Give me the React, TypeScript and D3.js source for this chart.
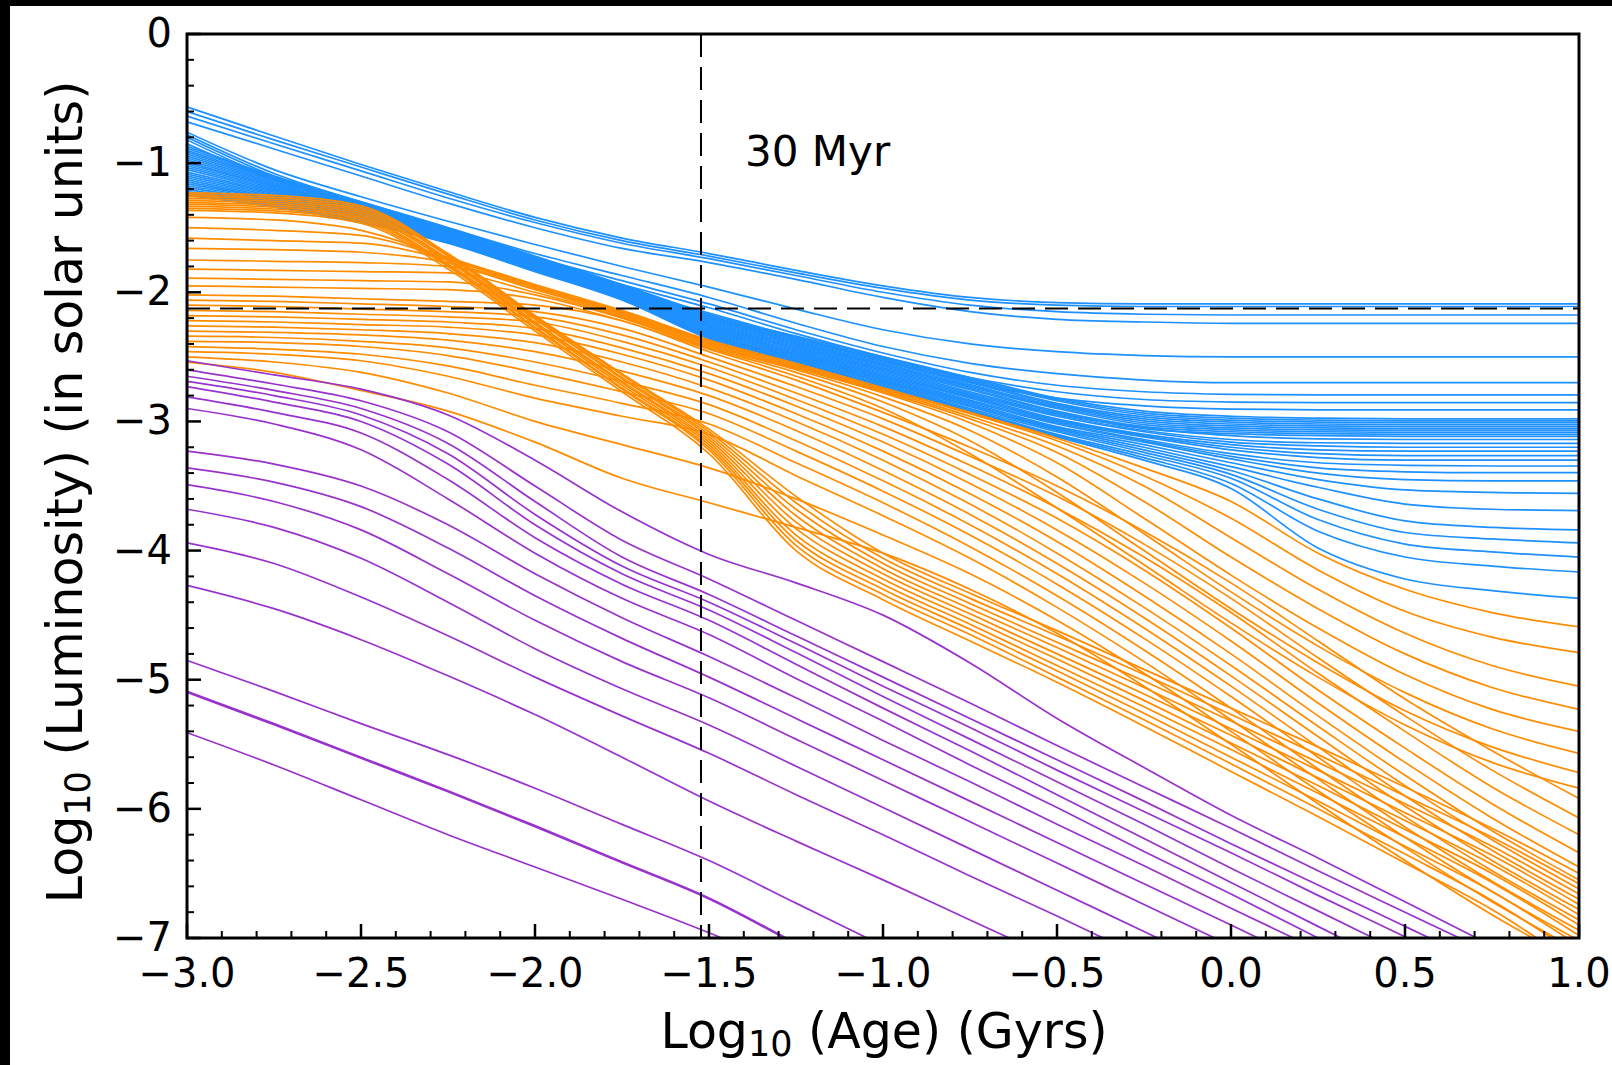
import React from 'react';
import * as d3 from 'd3';

// Common age grid, log10(age / Gyr)
const AGES = [-3, -2.75, -2.5, -2.25, -2, -1.75, -1.5, -1.25, -1, -0.75, -0.5, -0.25, 0, 0.25, 0.5, 0.75, 1];

// Stellar tracks above the main band (log L at each grid age)
const starUpper = [
  [-0.565, -0.79, -1.01, -1.22, -1.42, -1.58, -1.70, -1.83, -1.95, -2.04, -2.08, -2.09, -2.09, -2.09, -2.09, -2.09, -2.09],
  [-0.60, -0.82, -1.03, -1.24, -1.44, -1.60, -1.72, -1.85, -1.97, -2.06, -2.10, -2.11, -2.11, -2.11, -2.11, -2.11, -2.11],
  [-0.635, -0.85, -1.06, -1.27, -1.46, -1.62, -1.74, -1.87, -2.00, -2.10, -2.15, -2.17, -2.176, -2.176, -2.176, -2.176, -2.176],
  [-0.68, -0.89, -1.10, -1.31, -1.50, -1.66, -1.77, -1.90, -2.04, -2.15, -2.21, -2.23, -2.24, -2.24, -2.24, -2.24, -2.24],
  [-0.76, -1.05, -1.26, -1.45, -1.63, -1.80, -1.96, -2.13, -2.29, -2.40, -2.46, -2.49, -2.50, -2.50, -2.50, -2.50, -2.50],
  [-0.78, -1.08, -1.30, -1.50, -1.70, -1.87, -2.04, -2.24, -2.42, -2.55, -2.63, -2.68, -2.70, -2.70, -2.70, -2.70, -2.70],
  [-0.80, -1.10, -1.32, -1.52, -1.73, -1.91, -2.09, -2.29, -2.47, -2.62, -2.72, -2.77, -2.79, -2.795, -2.795, -2.795, -2.795],
  [-0.82, -1.12, -1.33, -1.54, -1.75, -1.94, -2.12, -2.32, -2.50, -2.66, -2.77, -2.83, -2.85, -2.855, -2.855, -2.855, -2.855],
  [-0.85, -1.13, -1.34, -1.55, -1.77, -1.97, -2.16, -2.35, -2.53, -2.70, -2.82, -2.88, -2.905, -2.91, -2.91, -2.91, -2.91],
];

// Stellar tracks forming the dense band
const starBand = [
  [-0.87, -1.10, -1.30, -1.50, -1.72, -1.94, -2.17, -2.34, -2.50, -2.66, -2.82, -2.92, -2.96, -2.975, -2.98, -2.98, -2.98],
  [-0.885, -1.11, -1.31, -1.505, -1.725, -1.945, -2.18, -2.35, -2.51, -2.67, -2.83, -2.935, -2.975, -2.99, -2.995, -2.995, -2.995],
  [-0.90, -1.12, -1.31, -1.51, -1.73, -1.95, -2.185, -2.355, -2.52, -2.68, -2.84, -2.95, -2.99, -3.005, -3.01, -3.01, -3.01],
  [-0.915, -1.13, -1.32, -1.515, -1.735, -1.955, -2.19, -2.365, -2.53, -2.69, -2.86, -2.965, -3.005, -3.02, -3.025, -3.025, -3.025],
  [-0.93, -1.14, -1.325, -1.52, -1.74, -1.96, -2.20, -2.375, -2.54, -2.70, -2.87, -2.98, -3.02, -3.035, -3.04, -3.04, -3.04],
  [-0.945, -1.15, -1.33, -1.525, -1.745, -1.965, -2.21, -2.38, -2.55, -2.715, -2.88, -2.995, -3.035, -3.05, -3.055, -3.055, -3.055],
  [-0.96, -1.16, -1.34, -1.53, -1.75, -1.97, -2.215, -2.39, -2.56, -2.725, -2.89, -3.01, -3.05, -3.065, -3.07, -3.07, -3.07],
  [-0.975, -1.17, -1.345, -1.535, -1.755, -1.975, -2.225, -2.40, -2.565, -2.735, -2.90, -3.025, -3.065, -3.08, -3.085, -3.085, -3.085],
  [-0.99, -1.18, -1.35, -1.54, -1.76, -1.98, -2.23, -2.405, -2.575, -2.745, -2.92, -3.04, -3.08, -3.095, -3.10, -3.10, -3.10],
  [-1.005, -1.185, -1.36, -1.545, -1.765, -1.985, -2.24, -2.415, -2.585, -2.755, -2.93, -3.055, -3.095, -3.11, -3.115, -3.115, -3.115],
  [-1.02, -1.195, -1.365, -1.55, -1.77, -1.99, -2.245, -2.425, -2.595, -2.77, -2.94, -3.05, -3.11, -3.135, -3.14, -3.14, -3.14],
  [-1.035, -1.205, -1.37, -1.555, -1.775, -1.995, -2.255, -2.43, -2.605, -2.78, -2.95, -3.07, -3.14, -3.165, -3.17, -3.17, -3.17],
  [-1.05, -1.215, -1.375, -1.56, -1.78, -2.0, -2.26, -2.44, -2.615, -2.79, -2.96, -3.08, -3.16, -3.19, -3.20, -3.20, -3.20],
  [-1.07, -1.225, -1.385, -1.56, -1.78, -2.0, -2.27, -2.45, -2.625, -2.80, -2.98, -3.10, -3.18, -3.22, -3.23, -3.23, -3.23],
  [-1.085, -1.235, -1.39, -1.565, -1.785, -2.005, -2.275, -2.46, -2.635, -2.81, -2.99, -3.11, -3.20, -3.25, -3.265, -3.265, -3.265],
  [-1.10, -1.245, -1.395, -1.57, -1.79, -2.01, -2.285, -2.465, -2.645, -2.82, -3.00, -3.12, -3.22, -3.28, -3.30, -3.30, -3.30],
  [-1.115, -1.255, -1.40, -1.575, -1.795, -2.015, -2.29, -2.475, -2.655, -2.835, -3.01, -3.14, -3.25, -3.32, -3.34, -3.345, -3.345],
  [-1.13, -1.265, -1.41, -1.58, -1.80, -2.02, -2.30, -2.485, -2.665, -2.845, -3.02, -3.15, -3.27, -3.36, -3.39, -3.397, -3.397],
  [-1.145, -1.275, -1.415, -1.585, -1.805, -2.025, -2.305, -2.49, -2.675, -2.855, -3.04, -3.16, -3.29, -3.40, -3.45, -3.46, -3.46],
  [-1.16, -1.28, -1.42, -1.59, -1.81, -2.03, -2.315, -2.50, -2.68, -2.865, -3.05, -3.18, -3.32, -3.45, -3.53, -3.55, -3.557],
  [-1.175, -1.29, -1.43, -1.595, -1.815, -2.035, -2.32, -2.51, -2.69, -2.875, -3.06, -3.20, -3.35, -3.51, -3.64, -3.68, -3.69],
  [-1.19, -1.30, -1.435, -1.60, -1.82, -2.04, -2.33, -2.515, -2.70, -2.885, -3.07, -3.22, -3.38, -3.60, -3.77, -3.82, -3.84],
  [-1.205, -1.31, -1.44, -1.605, -1.825, -2.045, -2.335, -2.525, -2.71, -2.90, -3.08, -3.24, -3.41, -3.68, -3.86, -3.91, -3.94],
  [-1.22, -1.32, -1.445, -1.61, -1.83, -2.05, -2.345, -2.535, -2.72, -2.91, -3.10, -3.26, -3.44, -3.76, -3.95, -4.01, -4.05],
  [-1.235, -1.33, -1.455, -1.615, -1.835, -2.055, -2.35, -2.54, -2.73, -2.92, -3.11, -3.28, -3.48, -3.85, -4.05, -4.12, -4.166],
  [-1.25, -1.34, -1.46, -1.62, -1.84, -2.06, -2.36, -2.55, -2.74, -2.93, -3.12, -3.30, -3.52, -3.98, -4.22, -4.31, -4.37],
];

// Brown dwarfs that join the band below the stars
const dwarfBand = [
  [-1.42, -1.44, -1.52, -1.73, -1.94, -2.14, -2.37, -2.55, -2.74, -2.93, -3.13, -3.36, -3.62, -4.02, -4.30, -4.48, -4.59],
  [-1.50, -1.52, -1.56, -1.74, -1.95, -2.15, -2.38, -2.56, -2.75, -2.94, -3.15, -3.42, -3.75, -4.15, -4.47, -4.67, -4.79],
  [-1.58, -1.60, -1.62, -1.75, -1.96, -2.16, -2.39, -2.57, -2.76, -2.96, -3.19, -3.50, -3.90, -4.30, -4.64, -4.89, -5.05],
  [-1.66, -1.67, -1.69, -1.77, -1.97, -2.17, -2.40, -2.58, -2.77, -2.98, -3.24, -3.62, -4.05, -4.45, -4.80, -5.06, -5.23],
  [-1.75, -1.76, -1.77, -1.80, -1.98, -2.18, -2.41, -2.59, -2.78, -3.01, -3.32, -3.75, -4.19, -4.60, -4.96, -5.23, -5.40],
  [-1.82, -1.83, -1.84, -1.85, -2.00, -2.19, -2.42, -2.60, -2.81, -3.07, -3.43, -3.87, -4.32, -4.74, -5.10, -5.38, -5.57],
  [-1.89, -1.90, -1.91, -1.92, -2.02, -2.20, -2.43, -2.62, -2.85, -3.15, -3.55, -4.00, -4.45, -4.87, -5.24, -5.52, -5.72],
  [-1.95, -1.96, -1.97, -1.98, -2.05, -2.22, -2.44, -2.65, -2.90, -3.25, -3.67, -4.11, -4.56, -4.98, -5.35, -5.64, -5.84],
];

// Brown dwarfs with a deuterium-burning plateau
const dwarfDeuterium = [
  [-2.02, -2.03, -2.05, -2.07, -2.10, -2.22, -2.46, -2.68, -2.93, -3.20, -3.50, -3.85, -4.25, -4.70, -5.15, -5.55, -5.92],
  [-2.06, -2.07, -2.09, -2.11, -2.15, -2.28, -2.50, -2.73, -2.98, -3.27, -3.58, -3.95, -4.37, -4.83, -5.28, -5.70, -6.07],
  [-2.10, -2.11, -2.13, -2.15, -2.19, -2.33, -2.54, -2.78, -3.04, -3.34, -3.67, -4.05, -4.48, -4.95, -5.40, -5.83, -6.20],
  [-2.14, -2.15, -2.17, -2.19, -2.23, -2.38, -2.58, -2.83, -3.10, -3.41, -3.75, -4.15, -4.60, -5.08, -5.53, -5.96, -6.34],
  [-2.18, -2.19, -2.21, -2.23, -2.28, -2.43, -2.63, -2.88, -3.16, -3.48, -3.84, -4.25, -4.70, -5.18, -5.64, -6.07, -6.45],
  [-2.22, -2.23, -2.25, -2.27, -2.33, -2.48, -2.68, -2.94, -3.23, -3.56, -3.93, -4.35, -4.80, -5.28, -5.74, -6.17, -6.55],
  [-2.26, -2.27, -2.29, -2.32, -2.39, -2.54, -2.74, -3.00, -3.30, -3.64, -4.02, -4.44, -4.89, -5.36, -5.82, -6.24, -6.62],
  [-2.30, -2.31, -2.33, -2.37, -2.46, -2.61, -2.80, -3.07, -3.38, -3.72, -4.10, -4.52, -4.97, -5.44, -5.90, -6.32, -6.70],
  [-2.34, -2.35, -2.38, -2.43, -2.54, -2.69, -2.87, -3.15, -3.46, -3.80, -4.18, -4.60, -5.05, -5.52, -5.98, -6.40, -6.78],
  [-2.38, -2.39, -2.42, -2.49, -2.62, -2.77, -2.94, -3.23, -3.54, -3.88, -4.26, -4.68, -5.13, -5.60, -6.06, -6.48, -6.86],
  [-2.42, -2.44, -2.48, -2.57, -2.72, -2.86, -3.02, -3.32, -3.63, -3.97, -4.35, -4.77, -5.22, -5.69, -6.14, -6.56, -6.94],
  [-2.46, -2.48, -2.53, -2.65, -2.82, -2.96, -3.10, -3.42, -3.73, -4.06, -4.44, -4.86, -5.31, -5.77, -6.22, -6.64, -7.02],
  [-2.50, -2.54, -2.62, -2.78, -3.00, -3.18, -3.36, -3.60, -3.88, -4.18, -4.54, -4.95, -5.40, -5.86, -6.30, -6.72, -7.10],
  [-2.54, -2.62, -2.76, -2.92, -3.16, -3.44, -3.63, -3.82, -4.02, -4.30, -4.64, -5.05, -5.50, -5.96, -6.40, -6.82, -7.20],
];

// Bright young brown dwarfs that fade steeply
const dwarfSteep = [
  [-1.23, -1.25, -1.33, -1.70, -2.18, -2.63, -3.06, -3.58, -4.02, -4.33, -4.62, -4.92, -5.22, -5.52, -5.83, -6.15, -6.50],
  [-1.245, -1.265, -1.345, -1.71, -2.19, -2.64, -3.08, -3.63, -4.06, -4.37, -4.66, -4.96, -5.27, -5.58, -5.90, -6.22, -6.58],
  [-1.26, -1.28, -1.36, -1.72, -2.20, -2.66, -3.10, -3.68, -4.10, -4.41, -4.71, -5.01, -5.32, -5.64, -5.96, -6.29, -6.66],
  [-1.275, -1.295, -1.375, -1.74, -2.21, -2.67, -3.12, -3.73, -4.14, -4.45, -4.75, -5.06, -5.38, -5.70, -6.03, -6.36, -6.74],
  [-1.29, -1.31, -1.39, -1.75, -2.23, -2.69, -3.14, -3.78, -4.18, -4.49, -4.80, -5.11, -5.43, -5.76, -6.09, -6.43, -6.82],
  [-1.305, -1.325, -1.405, -1.76, -2.24, -2.70, -3.16, -3.83, -4.22, -4.53, -4.84, -5.16, -5.49, -5.82, -6.16, -6.50, -6.90],
  [-1.32, -1.34, -1.42, -1.78, -2.25, -2.72, -3.18, -3.88, -4.26, -4.57, -4.89, -5.21, -5.54, -5.88, -6.22, -6.57, -6.98],
  [-1.335, -1.355, -1.435, -1.79, -2.27, -2.74, -3.20, -3.92, -4.30, -4.61, -4.93, -5.26, -5.60, -5.94, -6.29, -6.64, -7.06],
  [-1.35, -1.37, -1.45, -1.80, -2.28, -2.75, -3.22, -3.96, -4.34, -4.65, -4.98, -5.31, -5.65, -6.00, -6.35, -6.71, -7.14],
  [-1.365, -1.385, -1.465, -1.82, -2.30, -2.77, -3.25, -4.00, -4.38, -4.70, -5.02, -5.36, -5.71, -6.06, -6.42, -6.78, -7.22],
];

// Planetary-mass tracks
const planetTracks = [
  [-2.53, -2.64, -2.75, -2.95, -3.30, -3.70, -4.03, -4.25, -4.50, -4.87, -5.30, -5.68, -6.05, -6.38, -6.72, -7.06, -7.40],
  [-2.60, -2.71, -2.84, -3.08, -3.50, -3.92, -4.22, -4.54, -4.86, -5.18, -5.51, -5.83, -6.15, -6.48, -6.80, -7.12, -7.44],
  [-2.65, -2.76, -2.90, -3.17, -3.62, -4.05, -4.34, -4.66, -4.98, -5.30, -5.62, -5.94, -6.27, -6.59, -6.91, -7.23, -7.55],
  [-2.69, -2.80, -2.95, -3.25, -3.72, -4.12, -4.40, -4.72, -5.05, -5.37, -5.70, -6.02, -6.34, -6.67, -6.99, -7.32, -7.64],
  [-2.73, -2.85, -3.00, -3.33, -3.80, -4.18, -4.46, -4.79, -5.13, -5.46, -5.79, -6.12, -6.46, -6.79, -7.12, -7.45, -7.78],
  [-2.81, -2.93, -3.09, -3.45, -3.90, -4.26, -4.54, -4.88, -5.22, -5.55, -5.89, -6.23, -6.57, -6.91, -7.25, -7.59, -7.93],
  [-2.90, -3.02, -3.22, -3.60, -4.02, -4.37, -4.65, -4.99, -5.32, -5.66, -5.99, -6.33, -6.66, -7.00, -7.34, -7.67, -8.00],
  [-3.23, -3.33, -3.50, -3.80, -4.18, -4.52, -4.82, -5.14, -5.47, -5.79, -6.12, -6.44, -6.77, -7.09, -7.42, -7.74, -8.07],
  [-3.36, -3.47, -3.66, -3.98, -4.35, -4.68, -4.98, -5.30, -5.62, -5.94, -6.26, -6.58, -6.90, -7.22, -7.54, -7.86, -8.18],
  [-3.49, -3.62, -3.84, -4.18, -4.54, -4.86, -5.14, -5.46, -5.78, -6.10, -6.42, -6.74, -7.06, -7.38, -7.70, -8.02, -8.34],
  [-3.68, -3.82, -4.06, -4.40, -4.76, -5.07, -5.35, -5.67, -5.99, -6.31, -6.63, -6.95, -7.27, -7.59, -7.91, -8.23, -8.55],
  [-3.94, -4.10, -4.36, -4.66, -4.98, -5.28, -5.57, -5.89, -6.20, -6.52, -6.83, -7.15, -7.46, -7.78],
  [-4.27, -4.45, -4.69, -4.97, -5.27, -5.60, -5.94, -6.25, -6.55, -6.86, -7.17, -7.48],
  [-4.85, -5.09, -5.34, -5.58, -5.84, -6.12, -6.40, -6.73, -7.06, -7.39],
  [-5.09, -5.34, -5.60, -5.86, -6.13, -6.41, -6.69, -7.04, -7.39],
  [-5.098, -5.348, -5.608, -5.868, -6.138, -6.418, -6.698, -7.048, -7.398],
  [-5.41, -5.66, -5.93, -6.20, -6.45, -6.70, -6.96, -7.25],
];

const X_MAJOR = [-3, -2.5, -2, -1.5, -1, -0.5, 0, 0.5, 1];
const Y_MAJOR = [0, -1, -2, -3, -4, -5, -6, -7];
const AGE_MARK = -1.523; // log10(0.03 Gyr)
const LUM_MARK = -2.125;

const STAR = '#1E90FF';
const DWARF = '#FF8C00';
const PLANET = '#9932CC';

const W = 1612;
const H = 1065;
const PLOT = { left: 187, right: 1579, top: 34, bottom: 938 };
const FONT = '"DejaVu Sans", sans-serif';

export default function App() {
  const x = d3.scaleLinear().domain([-3, 1]).range([PLOT.left, PLOT.right]);
  const y = d3.scaleLinear().domain([-7, 0]).range([PLOT.bottom, PLOT.top]);
  const line = d3
    .line<number>()
    .x((_, i) => x(AGES[i]))
    .y((d) => y(d))
    .curve(d3.curveMonotoneX);

  const fmtX = d3.format('.1f');
  const fmtY = d3.format('d');
  const xMinor = x.ticks(40).filter((t) => !X_MAJOR.some((m) => Math.abs(m - t) < 1e-6));
  const yMinor = y.ticks(35).filter((t) => !Y_MAJOR.some((m) => Math.abs(m - t) < 1e-6));

  const drawGroup = (tracks: number[][], color: string, key: string) =>
    tracks.map((t, i) => (
      <path key={key + i} d={line(t) || ''} fill="none" stroke={color} strokeWidth={1.7} />
    ));

  return (
    <svg
      width={W}
      height={H}
      viewBox={`0 0 ${W} ${H}`}
      style={{ position: 'absolute', left: 0, top: 0, display: 'block' }}
      fontFamily={FONT}
    >
      <rect x={0} y={0} width={W} height={H} fill="#ffffff" />
      <rect x={0} y={0} width={W} height={6} fill="#000000" />
      <rect x={0} y={0} width={10} height={H} fill="#000000" />
      <defs>
        <clipPath id="plot-area">
          <rect x={PLOT.left} y={PLOT.top} width={PLOT.right - PLOT.left} height={PLOT.bottom - PLOT.top} />
        </clipPath>
      </defs>

      <g clipPath="url(#plot-area)">
        {drawGroup(starUpper, STAR, 'su')}
        {drawGroup(starBand, STAR, 'sb')}
        {drawGroup(dwarfSteep, DWARF, 'ds')}
        {drawGroup(dwarfDeuterium, DWARF, 'dd')}
        {drawGroup(dwarfBand, DWARF, 'db')}
        {drawGroup(planetTracks, PLANET, 'pl')}
        <line
          x1={x(AGE_MARK)}
          x2={x(AGE_MARK)}
          y1={PLOT.top}
          y2={PLOT.bottom}
          stroke="#000"
          strokeWidth={2}
          strokeDasharray="23 10"
        />
        <line
          x1={PLOT.left}
          x2={PLOT.right}
          y1={y(LUM_MARK)}
          y2={y(LUM_MARK)}
          stroke="#000"
          strokeWidth={2}
          strokeDasharray="23 10"
        />
      </g>

      <text x={745} y={166} fontSize={42} fill="#000">30 Myr</text>

      {/* ticks, pointing inward on left and bottom */}
      {X_MAJOR.map((t) => (
        <line key={'xM' + t} x1={x(t)} x2={x(t)} y1={PLOT.bottom} y2={PLOT.bottom - 14} stroke="#000" strokeWidth={2.5} />
      ))}
      {xMinor.map((t) => (
        <line key={'xm' + t} x1={x(t)} x2={x(t)} y1={PLOT.bottom} y2={PLOT.bottom - 7} stroke="#000" strokeWidth={2} />
      ))}
      {Y_MAJOR.map((t) => (
        <line key={'yM' + t} x1={PLOT.left} x2={PLOT.left + 14} y1={y(t)} y2={y(t)} stroke="#000" strokeWidth={2.5} />
      ))}
      {yMinor.map((t) => (
        <line key={'ym' + t} x1={PLOT.left} x2={PLOT.left + 7} y1={y(t)} y2={y(t)} stroke="#000" strokeWidth={2} />
      ))}

      <rect
        x={PLOT.left}
        y={PLOT.top}
        width={PLOT.right - PLOT.left}
        height={PLOT.bottom - PLOT.top}
        fill="none"
        stroke="#000"
        strokeWidth={3}
      />

      {X_MAJOR.map((t) => (
        <text key={'xl' + t} x={x(t)} y={987} fontSize={40} textAnchor="middle" fill="#000">
          {fmtX(t)}
        </text>
      ))}
      {Y_MAJOR.map((t) => (
        <text key={'yl' + t} x={172} y={y(t) + 13} fontSize={40} textAnchor="end" fill="#000">
          {fmtY(t)}
        </text>
      ))}

      <text x={884} y={1048} fontSize={49} textAnchor="middle" fill="#000">
        Log<tspan fontSize={35} dy={8}>10</tspan>
        <tspan dy={-8}> (Age) (Gyrs)</tspan>
      </text>
      <text
        transform={`translate(82, 492) rotate(-90)`}
        fontSize={49}
        textAnchor="middle"
        fill="#000"
      >
        Log<tspan fontSize={35} dy={8}>10</tspan>
        <tspan dy={-8}> (Luminosity) (in solar units)</tspan>
      </text>
    </svg>
  );
}
